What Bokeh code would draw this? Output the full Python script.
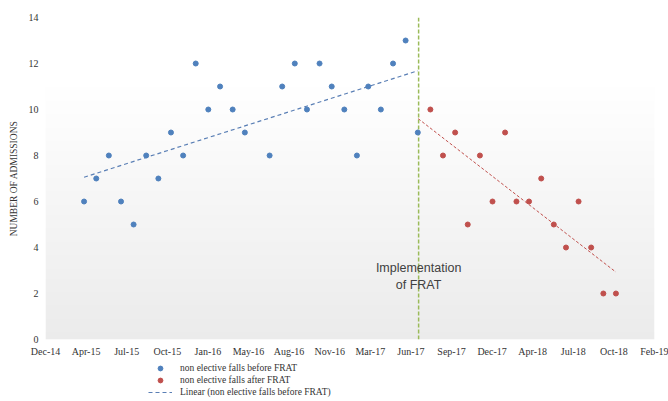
import numpy as np
import pandas as pd
from bokeh.plotting import figure
from bokeh.layouts import column
from bokeh.models import Range1d, FixedTicker, Label, Legend, LegendItem
from bokeh.embed import file_html
from bokeh.resources import INLINE

# ---- data ----
before_months = ["2015-04-01", "2015-05-01", "2015-06-01", "2015-07-01", "2015-08-01",
                 "2015-09-01", "2015-10-01", "2015-11-01", "2015-12-01", "2016-01-01",
                 "2016-02-01", "2016-03-01", "2016-04-01", "2016-05-01", "2016-07-01",
                 "2016-08-01", "2016-09-01", "2016-10-01", "2016-11-01", "2016-12-01",
                 "2017-01-01", "2017-02-01", "2017-03-01", "2017-04-01", "2017-05-01",
                 "2017-06-01", "2017-07-01"]
before_values = [6, 7, 8, 6, 5, 8, 7, 9, 8, 12, 10, 11, 10, 9, 8,
                 11, 12, 10, 12, 11, 10, 8, 11, 10, 12, 13, 9]

after_months = ["2017-08-01", "2017-09-01", "2017-10-01", "2017-11-01", "2017-12-01",
                "2018-01-01", "2018-02-01", "2018-03-01", "2018-04-01", "2018-05-01",
                "2018-06-01", "2018-07-01", "2018-08-01", "2018-09-01", "2018-10-01",
                "2018-11-01"]
after_values = [10, 8, 9, 5, 8, 6, 9, 6, 6, 7, 5, 4, 6, 4, 2, 2]

tick_labels = ["Dec-14", "Apr-15", "Jul-15", "Oct-15", "Jan-16", "May-16", "Aug-16",
               "Nov-16", "Mar-17", "Jun-17", "Sep-17", "Dec-17", "Apr-18", "Jul-18",
               "Oct-18", "Feb-19"]
y_ticks = [0, 2, 4, 6, 8, 10, 12, 14]
y_max = 14

legend_labels = ["non elective falls before FRAT",
                 "non elective falls after FRAT",
                 "Linear (non elective falls before FRAT)"]

implementation_date = "2017-07-03"
annotation_text = "Implementation\nof FRAT"
annotation_y = 2.75
axis_start_serial = 42000
major_unit_days = 100
after_trend_backward_days = 30

EPOCH = pd.Timestamp("1899-12-30")


def to_serial(dates):
    return np.asarray((pd.to_datetime(dates) - EPOCH).days, dtype=float)


bx = to_serial(before_months)
by = np.asarray(before_values, dtype=float)
ax = to_serial(after_months)
ay = np.asarray(after_values, dtype=float)
impl_x = float(to_serial([implementation_date])[0])

# linear trendlines (least squares, like Excel)
bk, bb = np.polyfit(bx, by, 1)
bt_x = np.array([bx.min(), bx.max()])
bt_y = bk * bt_x + bb
ak, ab = np.polyfit(ax, ay, 1)
at_x = np.array([ax.min() - after_trend_backward_days, ax.max()])
at_y = ak * at_x + ab

ticks = [axis_start_serial + major_unit_days * i for i in range(len(tick_labels))]
x_end = ticks[-1]

SERIF = "Liberation Serif"
TXT = "#333333"
BLUE = "#4f81bd"
RED = "#c0504d"
TREND_BLUE = "#5a7fb5"
GREEN = "#9bbb59"

p = figure(width=668, height=361, output_backend="svg", toolbar_location=None,
           x_range=Range1d(axis_start_serial, x_end), y_range=Range1d(0, y_max),
           min_border_left=45, min_border_right=14, min_border_top=17,
           min_border_bottom=22)
p.outline_line_color = None
p.background_fill_color = "white"
p.border_fill_color = "white"
p.xgrid.visible = False
p.ygrid.visible = False

# plot-area gradient (white at top to light grey at bottom)
n = 96
grad = np.empty((n, 1), dtype=np.uint32)
gv = grad.view(dtype=np.uint8).reshape((n, 1, 4))
for i in range(n):
    t = i / (n - 1)  # 0 bottom -> 1 top
    c = int(round(235 + (255 - 235) * min(1.0, t * 1.25)))
    gv[i, 0, :] = [c, c, c, 255]
p.image_rgba(image=[grad], x=axis_start_serial, y=0, dw=x_end - axis_start_serial, dh=y_max)

# implementation line
p.line([impl_x, impl_x], [0, y_max], line_color=GREEN, line_dash="4 2", line_width=1.5)

r_bt = p.line(bt_x, bt_y, line_color=TREND_BLUE, line_dash="4 3", line_width=1.2)
r_at = p.line(at_x, at_y, line_color=RED, line_dash="3 2", line_width=1)
r_b = p.scatter(bx, by, size=5, fill_color=BLUE, line_color=BLUE)
r_a = p.scatter(ax, ay, size=5, fill_color=RED, line_color=RED)

p.add_layout(Label(x=impl_x, y=annotation_y, text=annotation_text,
                   text_align="center", text_baseline="middle",
                   text_font="Liberation Sans", text_font_size="12.5px",
                   text_color="#404040", text_line_height=1.25))

# axes
p.xaxis.ticker = FixedTicker(ticks=ticks)
p.xaxis.major_label_overrides = {t: l for t, l in zip(ticks, tick_labels)}
p.yaxis.ticker = FixedTicker(ticks=y_ticks)
for a in (p.xaxis[0], p.yaxis[0]):
    a.axis_line_color = None
    a.major_tick_line_color = None
    a.minor_tick_line_color = None
    a.major_tick_out = 0
    a.major_tick_in = 0
    a.major_label_text_font = SERIF
    a.major_label_text_font_size = "10px"
    a.major_label_text_color = TXT
p.xaxis.major_label_standoff = 6
p.yaxis.major_label_standoff = 7
p.yaxis.axis_label = "NUMBER OF ADMISSIONS"
p.yaxis.axis_label_text_font = SERIF
p.yaxis.axis_label_text_font_style = "normal"
p.yaxis.axis_label_text_font_size = "9.5px"
p.yaxis.axis_label_text_color = TXT
p.yaxis.axis_label_standoff = 7

# legend strip below the chart; its renderers reuse the series but lie outside
# this strip's ranges, so only their legend glyphs show
q = figure(width=668, height=39, output_backend="svg", toolbar_location=None,
           x_axis_type=None, y_axis_type=None, x_range=Range1d(0, 1),
           y_range=Range1d(0, 1), min_border=0)
q.outline_line_color = None
q.xgrid.visible = False
q.ygrid.visible = False
lb = q.scatter(bx, by, size=5, fill_color=BLUE, line_color=BLUE)
la = q.scatter(ax, ay, size=5, fill_color=RED, line_color=RED)
lt = q.line(bt_x, bt_y, line_color=TREND_BLUE, line_dash="4 3", line_width=1.2)

legend = Legend(items=[LegendItem(label=l, renderers=[r])
                       for l, r in zip(legend_labels, [lb, la, lt])],
                location=(103, 2), orientation="vertical", glyph_width=24,
                glyph_height=12, label_height=12, spacing=0, padding=0, margin=0,
                label_standoff=8, background_fill_alpha=0, border_line_color=None,
                label_text_font=SERIF, label_text_font_size="9.5px",
                label_text_color=TXT)
q.add_layout(legend)

open("out.html", "w").write(file_html(column(p, q, spacing=0), INLINE))
